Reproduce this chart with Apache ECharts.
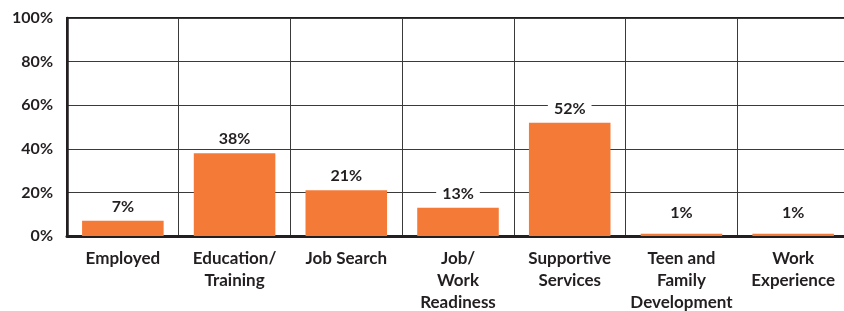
<!DOCTYPE html>
<html>
<head>
<meta charset="utf-8">
<script src="https://cdn.jsdelivr.net/npm/echarts@6/dist/echarts.min.js"></script>
<style>
  html, body { margin: 0; padding: 0; background: #fff; }
  #main { width: 844px; height: 311px; }
</style>
</head>
<body>
<div id="main"></div>
<script>
// categories and values
var categories = ['Employed', 'Education/\nTraining', 'Job Search', 'Job/\nWork\nReadiness',
    'Supportive\nServices', 'Teen and\nFamily\nDevelopment', 'Work\nExperience'];
var percents = [7, 38, 21, 13, 52, 1, 1];
var yTicks = [0, 20, 40, 60, 80, 100];

var FONT = 'Lato';
var WEIGHT = 'bold';
var INK = '#231f20';

var myChart = echarts.init(document.getElementById('main'));

// tiny bars get their label lifted a bit more
var barData = percents.map(function (v) {
    var item = { value: v };
    if (v < 3) item.label = { distance: 12 };
    return item;
});

var option = {
    animation: false,
    grid: {
        left: 67, top: 18, bottom: 75, width: 782,
        containLabel: false, outerBoundsMode: 'none',
        show: true, borderColor: INK, borderWidth: 2, backgroundColor: 'transparent'
    },
    xAxis: {
        type: 'category',
        data: categories,
        axisLine: { lineStyle: { color: INK, width: 3 } },
        axisTick: { show: false },
        splitLine: { show: true, interval: 0, lineStyle: { color: '#3a3a3a', width: 1 } },
        axisLabel: {
            interval: 0, margin: 12, lineHeight: 22,
            fontFamily: FONT, fontWeight: WEIGHT, fontSize: 17, color: INK
        }
    },
    yAxis: {
        type: 'value',
        min: yTicks[0], max: yTicks[yTicks.length - 1], interval: 20,
        axisLine: { show: true, lineStyle: { color: INK, width: 2.5 } },
        axisTick: { show: false },
        splitLine: { lineStyle: { color: '#3a3a3a', width: 1 } },
        axisLabel: {
            formatter: '{value}%', margin: 14,
            fontFamily: FONT, fontWeight: WEIGHT, fontSize: 16, color: INK
        }
    },
    series: [{
        type: 'bar',
        data: barData,
        barWidth: '73%',
        itemStyle: { color: '#f47a38' },
        label: {
            show: true, position: 'top', distance: 5,
            formatter: '{c}%',
            backgroundColor: '#fff', padding: [1, 6],
            fontFamily: FONT, fontWeight: WEIGHT, fontSize: 16, color: INK
        },
        z: 3
    }]
};

myChart.setOption(option);
</script>
</body>
</html>
